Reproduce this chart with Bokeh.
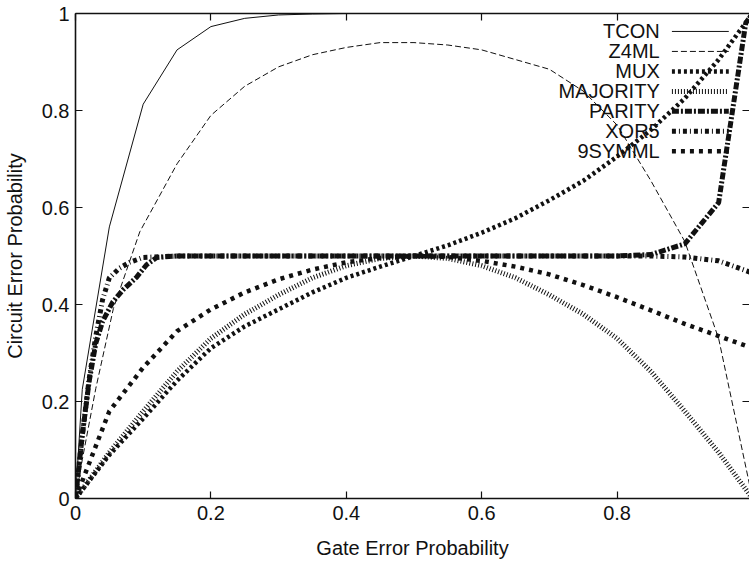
from bokeh.plotting import figure
from bokeh.models import Range1d, FixedTicker, LinearAxis, ColumnDataSource
from bokeh.core.properties import value
from bokeh.embed import file_html
from bokeh.resources import INLINE

# ---------------- data ----------------
x_tcon = [0, 0.01, 0.05, 0.1, 0.15, 0.2, 0.25, 0.3, 0.35, 0.4, 0.5, 0.6, 0.7, 0.8, 0.9, 1.0]
y_tcon = [0, 0.225, 0.56, 0.813, 0.925, 0.973, 0.99, 0.997, 0.999, 1.0, 1.0, 1.0, 1.0, 1.0, 1.0, 1.0]

x_z4ml = [0, 0.01, 0.03, 0.056, 0.095, 0.15, 0.2, 0.25, 0.3, 0.35, 0.4, 0.45, 0.5,
          0.55, 0.6, 0.65, 0.7, 0.75, 0.8, 0.85, 0.9, 0.95, 1.0]
y_z4ml = [0, 0.08, 0.227, 0.392, 0.55, 0.69, 0.79, 0.85, 0.89, 0.915, 0.93, 0.94, 0.94,
          0.935, 0.925, 0.905, 0.885, 0.84, 0.77, 0.655, 0.53, 0.33, 0.0]

x_grid = [0, 0.05, 0.1, 0.15, 0.2, 0.25, 0.3, 0.35, 0.4, 0.45, 0.5,
          0.55, 0.6, 0.65, 0.7, 0.75, 0.8, 0.85, 0.9, 0.95, 1.0]
y_mux = [0, 0.09, 0.165, 0.243, 0.31, 0.355, 0.39, 0.425, 0.455, 0.478, 0.5,
         0.522, 0.548, 0.578, 0.615, 0.655, 0.705, 0.76, 0.825, 0.905, 1.0]
y_majority = [0, 0.095, 0.18, 0.262, 0.33, 0.38, 0.42, 0.455, 0.48, 0.495, 0.5,
              0.495, 0.48, 0.455, 0.42, 0.38, 0.33, 0.262, 0.18, 0.095, 0.0]
y_9symml = [0, 0.18, 0.27, 0.345, 0.39, 0.425, 0.452, 0.472, 0.487, 0.496, 0.5,
            0.498, 0.49, 0.478, 0.462, 0.44, 0.415, 0.388, 0.36, 0.335, 0.31]

x_parity = [0, 0.01, 0.02, 0.03, 0.04, 0.055, 0.07, 0.09, 0.105, 0.12, 0.15, 0.2, 0.5,
            0.8, 0.85, 0.9, 0.95, 0.99, 1.0]
y_parity = [0, 0.13, 0.24, 0.32, 0.365, 0.405, 0.43, 0.456, 0.482, 0.497, 0.5, 0.5, 0.5,
            0.5, 0.503, 0.525, 0.61, 0.98, 1.0]

x_xor5 = [0, 0.01, 0.02, 0.03, 0.04, 0.05, 0.065, 0.08, 0.1, 0.15, 0.5, 0.85, 0.9, 0.95, 1.0]
y_xor5 = [0, 0.13, 0.245, 0.335, 0.41, 0.455, 0.475, 0.487, 0.497, 0.5, 0.5, 0.5, 0.498, 0.49, 0.465]

series_names = ["TCON", "Z4ML", "MUX", "MAJORITY", "PARITY", "XOR5", "9SYMML"]
x_ticks = [0, 0.2, 0.4, 0.6, 0.8, 1.0]
x_tick_labels = ["0", "0.2", "0.4", "0.6", "0.8", "1"]
y_ticks = [0, 0.2, 0.4, 0.6, 0.8, 1.0]
y_tick_labels = ["0", "0.2", "0.4", "0.6", "0.8", "1"]

series_x = [x_tcon, x_z4ml, x_grid, x_grid, x_parity, x_xor5, x_grid]
series_y = [y_tcon, y_z4ml, y_mux, y_majority, y_parity, y_xor5, y_9symml]

# ---------------- styles ----------------
FONT = "Liberation Sans"
INK = "#111111"
styles = [
    dict(line_width=1.0, line_dash="solid"),
    dict(line_width=1.0, line_dash="6 3"),
    dict(line_width=4.5, line_dash="3 3"),
    dict(line_width=5.0, line_dash="1 2"),
    dict(line_width=5.0, line_dash="7 2 2 2"),
    dict(line_width=5.0, line_dash="4 3 1 3"),
    dict(line_width=4.5, line_dash="4 5"),
]

p = figure(width=749, height=561, x_range=Range1d(0, 0.9956), y_range=Range1d(0, 1),
           output_backend="svg", toolbar_location=None,
           min_border_left=0, min_border_right=0, min_border_top=13, min_border_bottom=0)
p.outline_line_color = None
p.xgrid.visible = False
p.ygrid.visible = False
p.background_fill_color = "white"
p.border_fill_color = "white"


def style_axis(ax, ticks, labels, show_labels=True):
    ax.ticker = FixedTicker(ticks=ticks)
    ax.major_label_overrides = {t: l for t, l in zip(ticks, labels)}
    ax.major_tick_in = 7
    ax.major_tick_out = 0
    ax.minor_tick_line_color = None
    ax.major_tick_line_width = 1.2
    ax.major_tick_line_color = INK
    ax.axis_line_width = 1.6
    ax.axis_line_color = INK
    ax.major_label_text_font = FONT
    ax.major_label_text_font_size = "20px"
    if show_labels:
        ax.major_label_text_color = INK
    else:
        ax.major_label_text_color = None
        ax.major_label_standoff = 0
    ax.axis_label_text_font = FONT
    ax.axis_label_text_font_size = "20px"
    ax.axis_label_text_font_style = "normal"
    ax.axis_label_text_color = INK


xa = p.xaxis[0]
style_axis(xa, x_ticks, x_tick_labels)
xa.axis_label = "Gate Error Probability"
xa.major_label_standoff = 7
xa.axis_label_standoff = 14

ya = p.yaxis[0]
style_axis(ya, y_ticks, y_tick_labels)
ya.axis_label = "Circuit Error Probability"
ya.major_label_standoff = 6
ya.axis_label_standoff = 13

top = LinearAxis()
style_axis(top, x_ticks, x_tick_labels, show_labels=False)
p.add_layout(top, "above")

right = LinearAxis()
style_axis(right, y_ticks, y_tick_labels, show_labels=False)
right.axis_line_color = None
p.add_layout(right, "right")

# ---------------- legend (gnuplot style: label left of sample) ----------------
leg_text_x = 0.863
leg_x0, leg_x1 = 0.881, 0.965
leg_y0 = 0.963
leg_dy = 0.0412
leg_ys = [leg_y0 - i * leg_dy for i in range(len(series_names))]

p.text(x=[leg_text_x] * len(series_names), y=leg_ys, text=series_names,
       text_font=value(FONT), text_font_size="20px", text_align="right",
       text_baseline="middle", text_color=INK)

for name, xs, ys, st, ly in zip(series_names, series_x, series_y, styles, leg_ys):
    src = ColumnDataSource(dict(x=xs, y=ys))
    p.line("x", "y", source=src, line_color=INK, **st)
    p.line([leg_x0, leg_x1], [ly, ly], line_color=INK, **st)

open("out.html", "w").write(file_html(p, INLINE))
